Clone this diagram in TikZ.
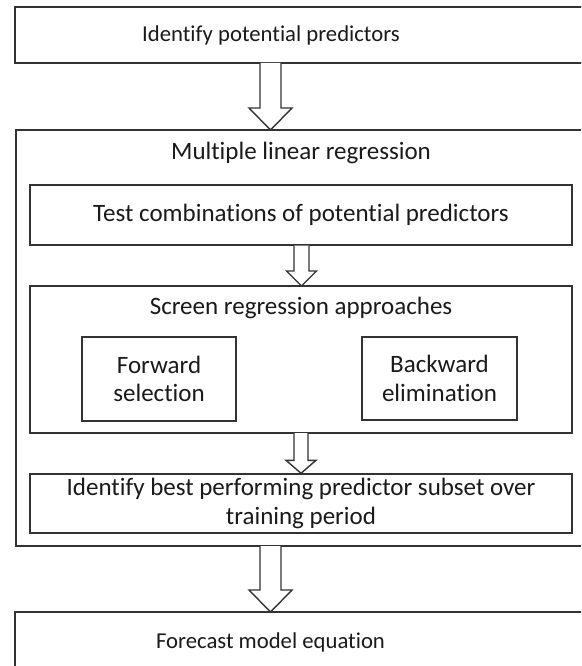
\documentclass[tikz,border=0pt]{standalone}
\usepackage{fontspec}
\setmainfont[Ligatures={NoCommon}]{Carlito}
\usetikzlibrary{calc}

\definecolor{edge}{HTML}{333333}
\definecolor{ink}{HTML}{1A1A1A}

\tikzset{
  frame/.style={draw=edge, line width=1.4pt, fill=none, rectangle, inner sep=0pt},
  lbl/.style={text=ink, font=\fontsize{22.7}{28}\selectfont, align=center, inner sep=0pt},
  lblin/.style={lbl, font=\fontsize{25}{28.5}\selectfont},
  boxed/.style={frame, lblin},
  fatarrow/.style={draw=edge, line width=1.4pt, fill=white, line join=miter},
}

% hollow block arrow from #1 down to #2: shaft half width #3, head half width #4, head length #5
\newcommand\blockarrow[5]{%
  \draw[fatarrow] ($(#1)+(-#3,0)$) -- ($(#2)+(-#3,-#5)$) -- ($(#2)+(-#4,-#5)$)
    -- (#2) -- ($(#2)+(#4,-#5)$) -- ($(#2)+(#3,-#5)$) -- ($(#1)+(#3,0)$);}

\begin{document}
\begin{tikzpicture}[x=1pt, y=-1pt]
  \clip (0,0) rectangle (581,666);
  \fill[white] (0,0) rectangle (581,666);

  % outer stage boxes (run past the right margin)
  \draw[frame] (15,7) rectangle (660,63);
  \node[lbl] (identify) at (271,35) {Identify potential predictors};

  \draw[frame] (16,130) rectangle (660,546);
  \node[lblin] (mlr) at (301,153) {Multiple linear regression};

  \draw[frame] (15,612) rectangle (660,700);
  \node[lbl] (forecast) at (270.5,642) {Forecast model equation};

  % inner steps of the regression stage
  \node[boxed, minimum width=542pt, minimum height=60pt] (test) at (301,215)
    {Test combinations of potential predictors};

  \draw[frame] (30,286) rectangle (572,433);
  \node[lblin] (screen) at (301,308) {Screen regression approaches};

  \node[boxed, minimum width=154pt, minimum height=84pt] (fwd) at (159,379)
    {Forward\\selection};
  \node[boxed, minimum width=155pt, minimum height=83pt] (bwd) at (439.5,378.5)
    {Backward\\elimination};

  \node[boxed, minimum width=542pt, minimum height=59pt] (best) at (301,503.5)
    {Identify best performing predictor subset over\\training period};

  % connector end points on the box edges
  \coordinate (a1s) at (270.5,63);   \coordinate (a1e) at (270.5,130);
  \coordinate (a2s) at (test.south -| 301.5,0); \coordinate (a2e) at (301.5,286);
  \coordinate (a3s) at (301,433);    \coordinate (a3e) at (best.north -| 301,0);
  \coordinate (a4s) at (270.5,546);  \coordinate (a4e) at (270.5,612);

  \blockarrow{a1s}{a1e}{10.5}{21.5}{22}
  \blockarrow{a2s}{a2e}{7.5}{15}{15}
  \blockarrow{a3s}{a3e}{7}{15}{13}
  \blockarrow{a4s}{a4e}{10.5}{21.5}{22}
\end{tikzpicture}
\end{document}
